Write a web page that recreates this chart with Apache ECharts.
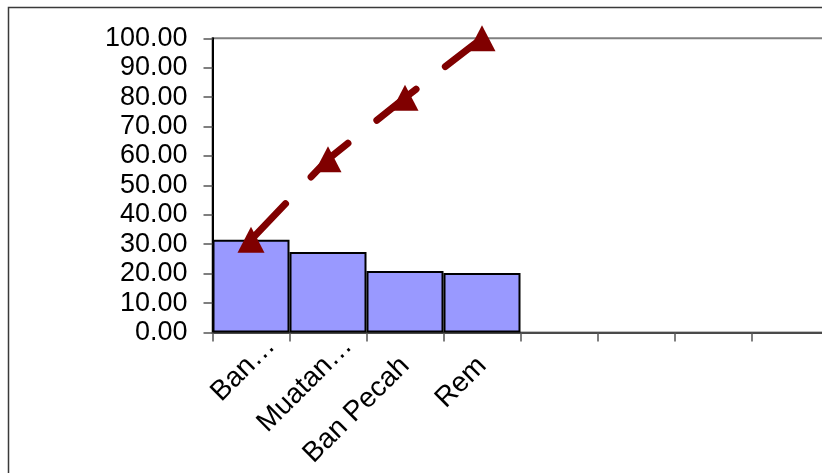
<!DOCTYPE html>
<html>
<head>
<meta charset="utf-8">
<script src="https://cdn.jsdelivr.net/npm/echarts@6/dist/echarts.min.js"></script>
<style>
  html, body { margin: 0; padding: 0; background: #fff; overflow: hidden; }
  #chart { width: 822px; height: 473px; }
</style>
</head>
<body>
<div id="chart"></div>
<script>
// Pareto of failure causes: share per cause (bars) and running total (line)
const categories = ['Ban\u2026', 'Muatan\u2026', 'Ban Pecah', 'Rem', '', '', '', ''];
const shareValues = [31.5, 27.4, 20.9, 20.2];
const cumulativeValues = [31.5, 58.9, 79.8, 100.0];
const yTicks = { min: 0, max: 100, interval: 10 };

const font = '"Liberation Sans", Arial, sans-serif';

// shortened names sit a little further along their slant
const categoryItems = categories.map(name =>
  name.endsWith('\u2026')
    ? { value: name, textStyle: { padding: [0, -28, 6, 0] } }
    : name
);

const chart = echarts.init(document.getElementById('chart'), null, { renderer: 'canvas' });

chart.setOption({
  animation: false,
  backgroundColor: '#ffffff',
  graphic: [{
    type: 'rect',
    silent: true,
    shape: { x: 8.5, y: 7.5, width: 1000, height: 1000 },
    style: { fill: 'none', stroke: '#3a3a3a', lineWidth: 1.5 },
    z: -10
  }],
  grid: {
    left: 212.5,
    top: 38.3,
    right: -6.5,
    bottom: 140.5,
    containLabel: false,
    outerBoundsMode: 'none',
    show: true,
    borderColor: '#808080',
    borderWidth: 2,
    backgroundColor: 'transparent'
  },
  xAxis: {
    type: 'category',
    data: categoryItems,
    boundaryGap: true,
    axisLine: { show: true, lineStyle: { color: '#4a4a4a', width: 2 } },
    axisTick: { show: true, alignWithLabel: false, length: 9, lineStyle: { color: '#555', width: 1.5 } },
    axisLabel: {
      interval: 0,
      rotate: 45,
      margin: 29,
      color: '#000',
      fontFamily: font,
      fontSize: 28
    },
    splitLine: { show: false }
  },
  yAxis: {
    type: 'value',
    min: yTicks.min,
    max: yTicks.max,
    interval: yTicks.interval,
    axisLine: { show: true, lineStyle: { color: '#000', width: 2 } },
    axisTick: { show: true, length: 9, lineStyle: { color: '#555', width: 1.5 } },
    axisLabel: {
      margin: 25,
      color: '#000',
      fontFamily: font,
      fontSize: 27,
      formatter: v => v.toFixed(2)
    },
    splitLine: { show: false }
  },
  series: [
    {
      name: 'Persentase',
      type: 'bar',
      data: shareValues,
      barCategoryGap: '0%',
      itemStyle: { color: '#9999ff', borderColor: '#000', borderWidth: 2 },
      z: 2
    },
    {
      name: 'Kumulatif',
      type: 'line',
      data: cumulativeValues,
      symbol: 'triangle',
      symbolSize: [27, 26],
      itemStyle: { color: '#800000' },
      lineStyle: { color: '#800000', width: 7, type: [50, 37], cap: 'round' },
      z: 3
    }
  ]
});
</script>
</body>
</html>
